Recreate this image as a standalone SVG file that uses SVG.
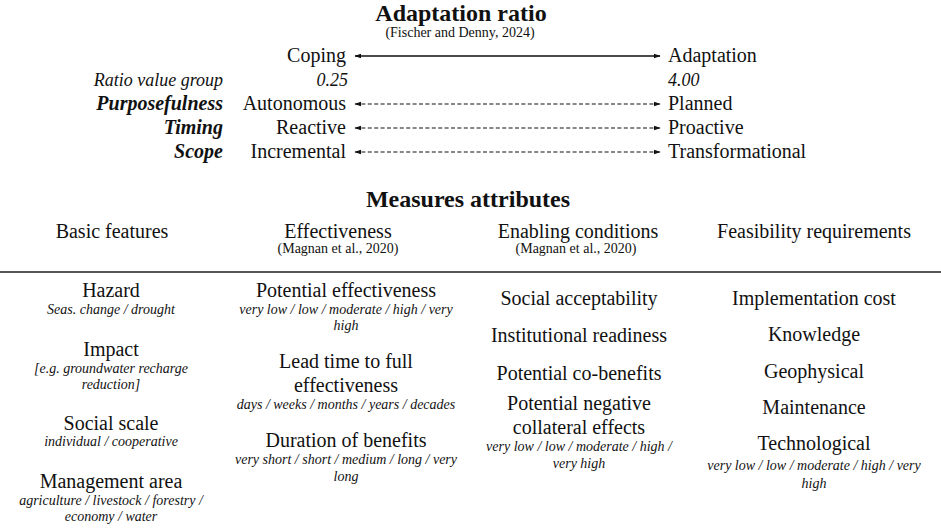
<svg xmlns="http://www.w3.org/2000/svg" width="941" height="528" viewBox="0 0 941 528">
<defs>
<marker id="ah" viewBox="0 0 10 10" refX="9" refY="5" markerWidth="7" markerHeight="7" markerUnits="userSpaceOnUse" orient="auto-start-reverse">
<path d="M0,1.5 L10,5 L0,8.5 Z" fill="#111"/>
</marker>
<style>
text{font-family:"Liberation Serif","Times New Roman",serif;fill:#111}
.t{font-size:24px;font-weight:bold;text-anchor:middle}
.cite{font-size:14px;text-anchor:middle}
.e{font-size:20px;text-anchor:end}
.s{font-size:20px;text-anchor:start}
.lab{font-size:20px;font-weight:bold;font-style:italic;text-anchor:end}
.lab2{font-size:18px;font-style:italic;text-anchor:end}
.ie{font-size:18px;font-style:italic;text-anchor:end}
.is{font-size:18px;font-style:italic;text-anchor:start}
.h{font-size:20px;text-anchor:middle}
.it{font-size:14px;font-style:italic;text-anchor:middle}
.solid{stroke:#111;stroke-width:1.3;fill:none}
.dash{stroke:#111;stroke-width:1.2;fill:none;stroke-dasharray:4 2.4}
</style>
</defs>
<rect width="941" height="528" fill="#fff"/>

<g id="title">
<text class="t" x="461" y="21">Adaptation ratio</text>
<text class="cite" x="460" y="37">(Fischer and Denny, 2024)</text>
</g>

<g id="row-coping">
<text class="e" x="346" y="62">Coping</text>
<text class="s" x="668" y="62">Adaptation</text>
</g>
<g id="row-ratio">
<text class="lab2" x="223" y="86">Ratio value group</text>
<text class="ie" x="348" y="86">0.25</text>
<text class="is" x="668" y="86">4.00</text>
</g>
<g id="row-purposefulness">
<text class="lab" x="223" y="110">Purposefulness</text>
<text class="e" x="346" y="110">Autonomous</text>
<text class="s" x="668" y="110">Planned</text>
</g>
<g id="row-timing">
<text class="lab" x="223" y="134">Timing</text>
<text class="e" x="346" y="134">Reactive</text>
<text class="s" x="668" y="134">Proactive</text>
</g>
<g id="row-scope">
<text class="lab" x="223" y="158">Scope</text>
<text class="e" x="346" y="158">Incremental</text>
<text class="s" x="668" y="158">Transformational</text>
</g>

<g id="connectors">
<line class="solid" x1="355" y1="56" x2="660" y2="56" marker-start="url(#ah)" marker-end="url(#ah)"/>
<line class="dash" x1="355" y1="104" x2="660" y2="104" marker-start="url(#ah)" marker-end="url(#ah)"/>
<line class="dash" x1="355" y1="128" x2="660" y2="128" marker-start="url(#ah)" marker-end="url(#ah)"/>
<line class="dash" x1="355" y1="152" x2="660" y2="152" marker-start="url(#ah)" marker-end="url(#ah)"/>
</g>

<g id="measures-title">
<text class="t" x="468" y="207">Measures attributes</text>
</g>

<g id="headers">
<text class="h" x="112" y="238">Basic features</text>
<text class="h" x="338" y="238">Effectiveness</text>
<text class="cite" x="338" y="253">(Magnan et al., 2020)</text>
<text class="h" x="578" y="238">Enabling conditions</text>
<text class="cite" x="576" y="253">(Magnan et al., 2020)</text>
<text class="h" x="814" y="238">Feasibility requirements</text>
</g>
<line x1="0" y1="272" x2="941" y2="272" stroke="#555" stroke-width="2"/>

<g id="col-basic">
<text class="h" x="111" y="297">Hazard</text>
<text class="it" x="111" y="314">Seas. change / drought</text>
<text class="h" x="111" y="356">Impact</text>
<text class="it" x="111" y="373">[e.g. groundwater recharge</text>
<text class="it" x="111" y="389">reduction]</text>
<text class="h" x="111" y="430">Social scale</text>
<text class="it" x="111" y="446">individual / cooperative</text>
<text class="h" x="111" y="488">Management area</text>
<text class="it" x="111" y="505">agriculture / livestock / forestry /</text>
<text class="it" x="111" y="521">economy / water</text>
</g>

<g id="col-effectiveness">
<text class="h" x="346" y="297">Potential effectiveness</text>
<text class="it" x="346" y="314">very low / low / moderate / high / very</text>
<text class="it" x="346" y="330">high</text>
<text class="h" x="346" y="368">Lead time to full</text>
<text class="h" x="346" y="392">effectiveness</text>
<text class="it" x="346" y="409">days / weeks / months / years / decades</text>
<text class="h" x="346" y="447">Duration of benefits</text>
<text class="it" x="346" y="464">very short / short / medium / long / very</text>
<text class="it" x="346" y="481">long</text>
</g>

<g id="col-enabling">
<text class="h" x="579" y="305">Social acceptability</text>
<text class="h" x="579" y="342">Institutional readiness</text>
<text class="h" x="579" y="380">Potential co-benefits</text>
<text class="h" x="579" y="410">Potential negative</text>
<text class="h" x="579" y="434">collateral effects</text>
<text class="it" x="579" y="451">very low / low / moderate / high /</text>
<text class="it" x="579" y="468">very high</text>
</g>

<g id="col-feasibility">
<text class="h" x="814" y="305">Implementation cost</text>
<text class="h" x="814" y="341">Knowledge</text>
<text class="h" x="814" y="378">Geophysical</text>
<text class="h" x="814" y="414">Maintenance</text>
<text class="h" x="814" y="450">Technological</text>
<text class="it" x="814" y="470">very low / low / moderate / high / very</text>
<text class="it" x="814" y="488">high</text>
</g>
</svg>
